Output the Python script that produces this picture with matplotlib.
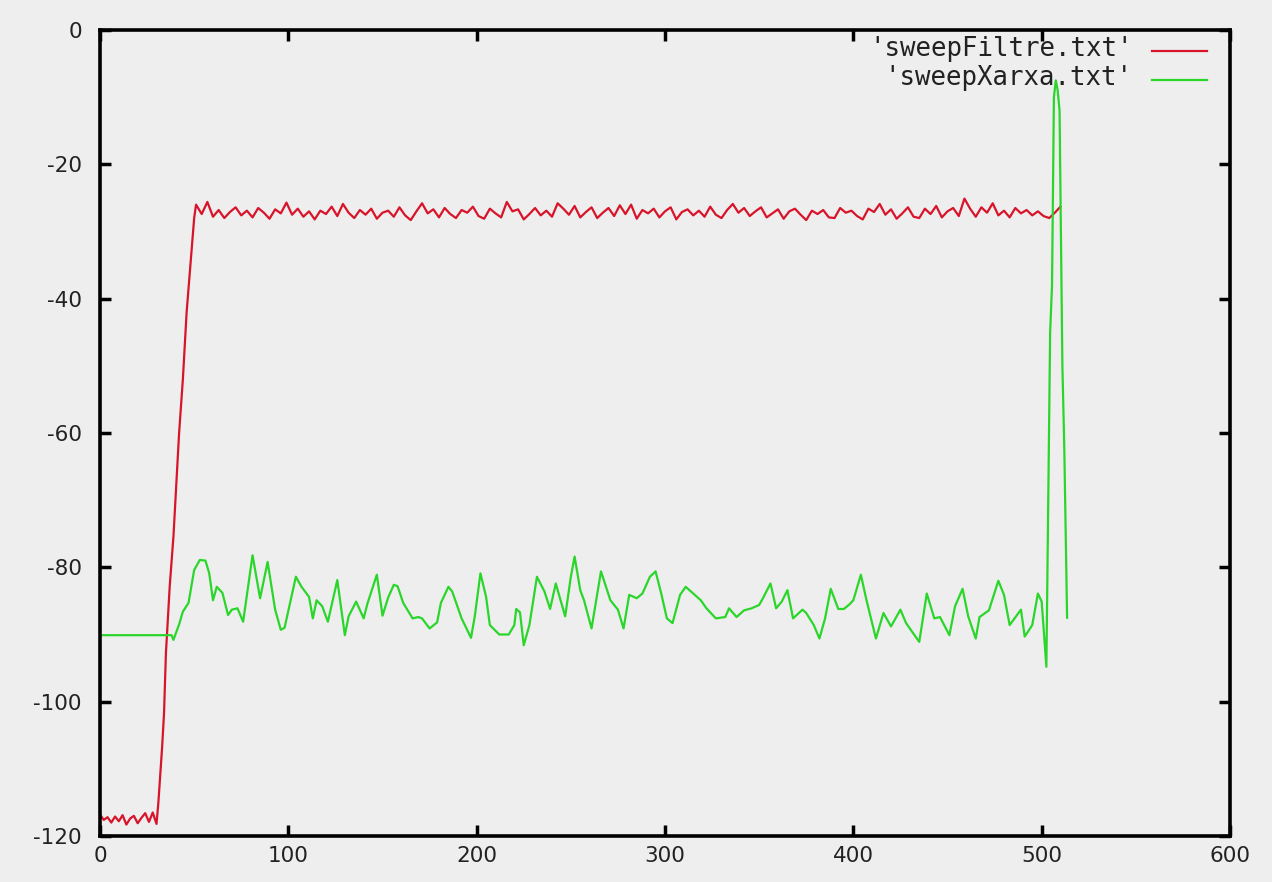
import numpy as np
import matplotlib
matplotlib.use("Agg")
import matplotlib.pyplot as plt

plt.rcParams["axes.unicode_minus"] = False

# === Data ===
# red: start level, ramp, then the noisy plateau (one value every 3 samples)
red_head_x = [0, 2, 4, 6, 8, 10, 12, 14, 16, 18, 20, 22, 24, 26, 28, 30,
              31, 33, 34, 35, 37, 39, 42, 44, 46, 48, 50]
red_head_y = [-116.8, -117.6, -117.2, -118.0, -117.1, -117.8, -116.9, -118.3,
              -117.4, -117.0, -118.1, -117.3, -116.6, -117.9, -116.5, -118.2,
              -115.0, -106.7, -101.7, -92.8, -82.9, -75.4, -60.0, -52.0,
              -42.0, -35.0, -28.0]
red_tail_start = 51
red_tail_step = 3
red_tail_y = [
    -26.0, -27.4, -25.6, -27.8, -26.8, -28.0, -27.1, -26.4, -27.6, -26.9,
    -27.9, -26.5, -27.2, -28.1, -26.7, -27.3, -25.7, -27.5, -26.6, -27.8,
    -27.0, -28.2, -26.9, -27.4, -26.3, -27.7, -25.9, -27.2, -28.0, -26.8,
    -27.5, -26.6, -28.1, -27.2, -26.9, -27.8, -26.4, -27.6, -28.3, -27.0,
    -25.8, -27.3, -26.7, -27.9, -26.5, -27.4, -28.0, -26.8, -27.2, -26.3,
    -27.7, -28.1, -26.6, -27.3, -27.9, -25.6, -27.0, -26.7, -28.2, -27.4,
    -26.5, -27.6, -26.9, -27.8, -25.8, -26.6, -27.5, -26.2, -27.9, -27.1,
    -26.4, -28.0, -27.2, -26.5, -27.7, -26.1, -27.4, -26.0, -28.1, -26.8,
    -27.3, -26.6, -27.9, -27.0, -26.4, -28.2, -27.1, -26.7, -27.6, -26.9,
    -27.8, -26.3, -27.5, -28.0, -26.8, -25.9, -27.2, -26.5, -27.7, -27.0,
    -26.4, -27.9, -27.3, -26.7, -28.1, -27.0, -26.6, -27.5, -28.3, -26.9,
    -27.4, -26.8, -27.9, -28.0, -26.5, -27.2, -26.9, -27.7, -28.2, -26.6,
    -27.1, -25.9, -27.5, -26.7, -28.1, -27.3, -26.4, -27.8, -28.0, -26.6,
    -27.4, -26.2, -27.9, -27.0, -26.5, -27.7, -25.1, -26.6, -27.8, -26.4,
    -27.2, -25.8, -27.6, -26.9, -27.9, -26.5, -27.3, -26.8, -27.6, -27.0,
    -27.7, -28.0, -27.2, -26.3,
]

green_x = [0, 38, 39, 42, 44, 47, 50, 53, 56, 58, 60, 62, 65, 68, 70, 73, 76,
           81, 85, 89, 93, 96, 98, 104, 107, 111, 113, 115, 118, 121, 126,
           130, 132, 136, 140, 142, 147, 150, 153, 156, 158, 161, 166, 169,
           171, 175, 179, 181, 185, 187, 192, 197, 199, 202, 205, 207, 212,
           217, 220, 221, 223, 225, 228, 232, 236, 239, 242, 247, 250, 252,
           255, 257, 261, 266, 271, 275, 278, 281, 285, 288, 292, 295, 298,
           301, 304, 308, 311, 315, 319, 322, 327, 332, 334, 338, 342, 346,
           350, 352, 356, 359, 362, 365, 368, 373, 375, 379, 382, 385, 388,
           392, 395, 398, 400, 404, 407, 412, 416, 420, 425, 428, 435, 439,
           443, 446, 451, 454, 458, 461, 465, 467, 472, 477, 480, 483, 489,
           491, 495, 498, 500, 502.5, 503.5, 504.5, 505.5, 506.5, 507.5,
           508.5, 509.5, 511, 512, 513.5]
green_y = [-90.1, -90.1, -90.8, -88.5, -86.6, -85.3, -80.4, -78.9, -79.0,
           -80.9, -84.9, -82.9, -83.8, -87.1, -86.3, -86.1, -88.1, -78.2,
           -84.6, -79.2, -86.3, -89.3, -89.0, -81.4, -82.9, -84.4, -87.6,
           -84.9, -85.8, -88.1, -81.9, -90.1, -87.3, -85.1, -87.6, -85.4,
           -81.1, -87.2, -84.5, -82.6, -82.8, -85.3, -87.6, -87.4, -87.6,
           -89.1, -88.2, -85.3, -82.9, -83.6, -87.6, -90.5, -87.3, -80.9,
           -84.4, -88.6, -90.0, -90.0, -88.6, -86.2, -86.7, -91.6, -88.6,
           -81.4, -83.6, -86.2, -82.4, -87.3, -81.4, -78.4, -83.4, -84.9,
           -89.1, -80.6, -84.9, -86.3, -89.1, -84.1, -84.6, -83.9, -81.4,
           -80.6, -83.9, -87.6, -88.3, -84.1, -82.9, -83.9, -84.9, -86.1,
           -87.6, -87.4, -86.1, -87.4, -86.4, -86.1, -85.6, -84.6, -82.4,
           -86.1, -85.1, -83.4, -87.6, -86.3, -86.8, -88.6, -90.6, -87.6,
           -83.2, -86.2, -86.2, -85.5, -84.9, -81.1, -84.9, -90.6, -86.8,
           -88.8, -86.3, -88.3, -91.1, -83.9, -87.6, -87.4, -90.1, -85.8,
           -83.2, -87.3, -90.6, -87.4, -86.4, -82.0, -84.1, -88.6, -86.3,
           -90.3, -88.6, -83.9, -85.1, -94.8, -70.0, -45.0, -38.0, -10.0,
           -7.5, -9.0, -12.0, -50.0, -62.0, -87.5]

x_ticks = [0, 100, 200, 300, 400, 500, 600]
y_ticks = [0, -20, -40, -60, -80, -100, -120]

red_tail_x = red_tail_start + red_tail_step * np.arange(len(red_tail_y))
red_x = np.concatenate([red_head_x, red_tail_x])
red_y = np.concatenate([red_head_y, red_tail_y])

# === Plot ===
bg = "#eeeeee"
fig = plt.figure(figsize=(12.72, 8.82), dpi=100, facecolor=bg)
ax = fig.add_axes([100 / 1272, 1 - 836 / 882, 1130 / 1272, 806 / 882])
ax.set_facecolor(bg)

red_col = "#d8142a"
green_col = "#2ad62a"
ax.plot(red_x, red_y, color=red_col, lw=1.6)
ax.plot(green_x, green_y, color=green_col, lw=1.6)

ax.set_xlim(0, 600)
ax.set_ylim(-120, 0)
ax.set_xticks(x_ticks)
ax.set_yticks(y_ticks)
ax.tick_params(direction="in", top=True, right=True, length=8, width=2.5,
               labelsize=15.5, labelcolor="#222222")
ax.tick_params(axis="y", pad=13)
ax.tick_params(axis="x", pad=7)
for s in ax.spines.values():
    s.set_linewidth(2.6)

# gnuplot-style key, text right-aligned against the sample lines
mono = "DejaVu Sans Mono"
ax.text(0.914, 0.976, "'sweepFiltre.txt'", transform=ax.transAxes, ha="right",
        va="center", fontsize=18.5, family=mono, color="#222222")
ax.text(0.914, 0.940, "'sweepXarxa.txt'", transform=ax.transAxes, ha="right",
        va="center", fontsize=18.5, family=mono, color="#222222")
ax.plot([0.931, 0.980], [0.974, 0.974], transform=ax.transAxes, color=red_col, lw=1.6)
ax.plot([0.931, 0.980], [0.938, 0.938], transform=ax.transAxes, color=green_col, lw=1.6)

fig.savefig("out.png", dpi=100, facecolor=bg)
